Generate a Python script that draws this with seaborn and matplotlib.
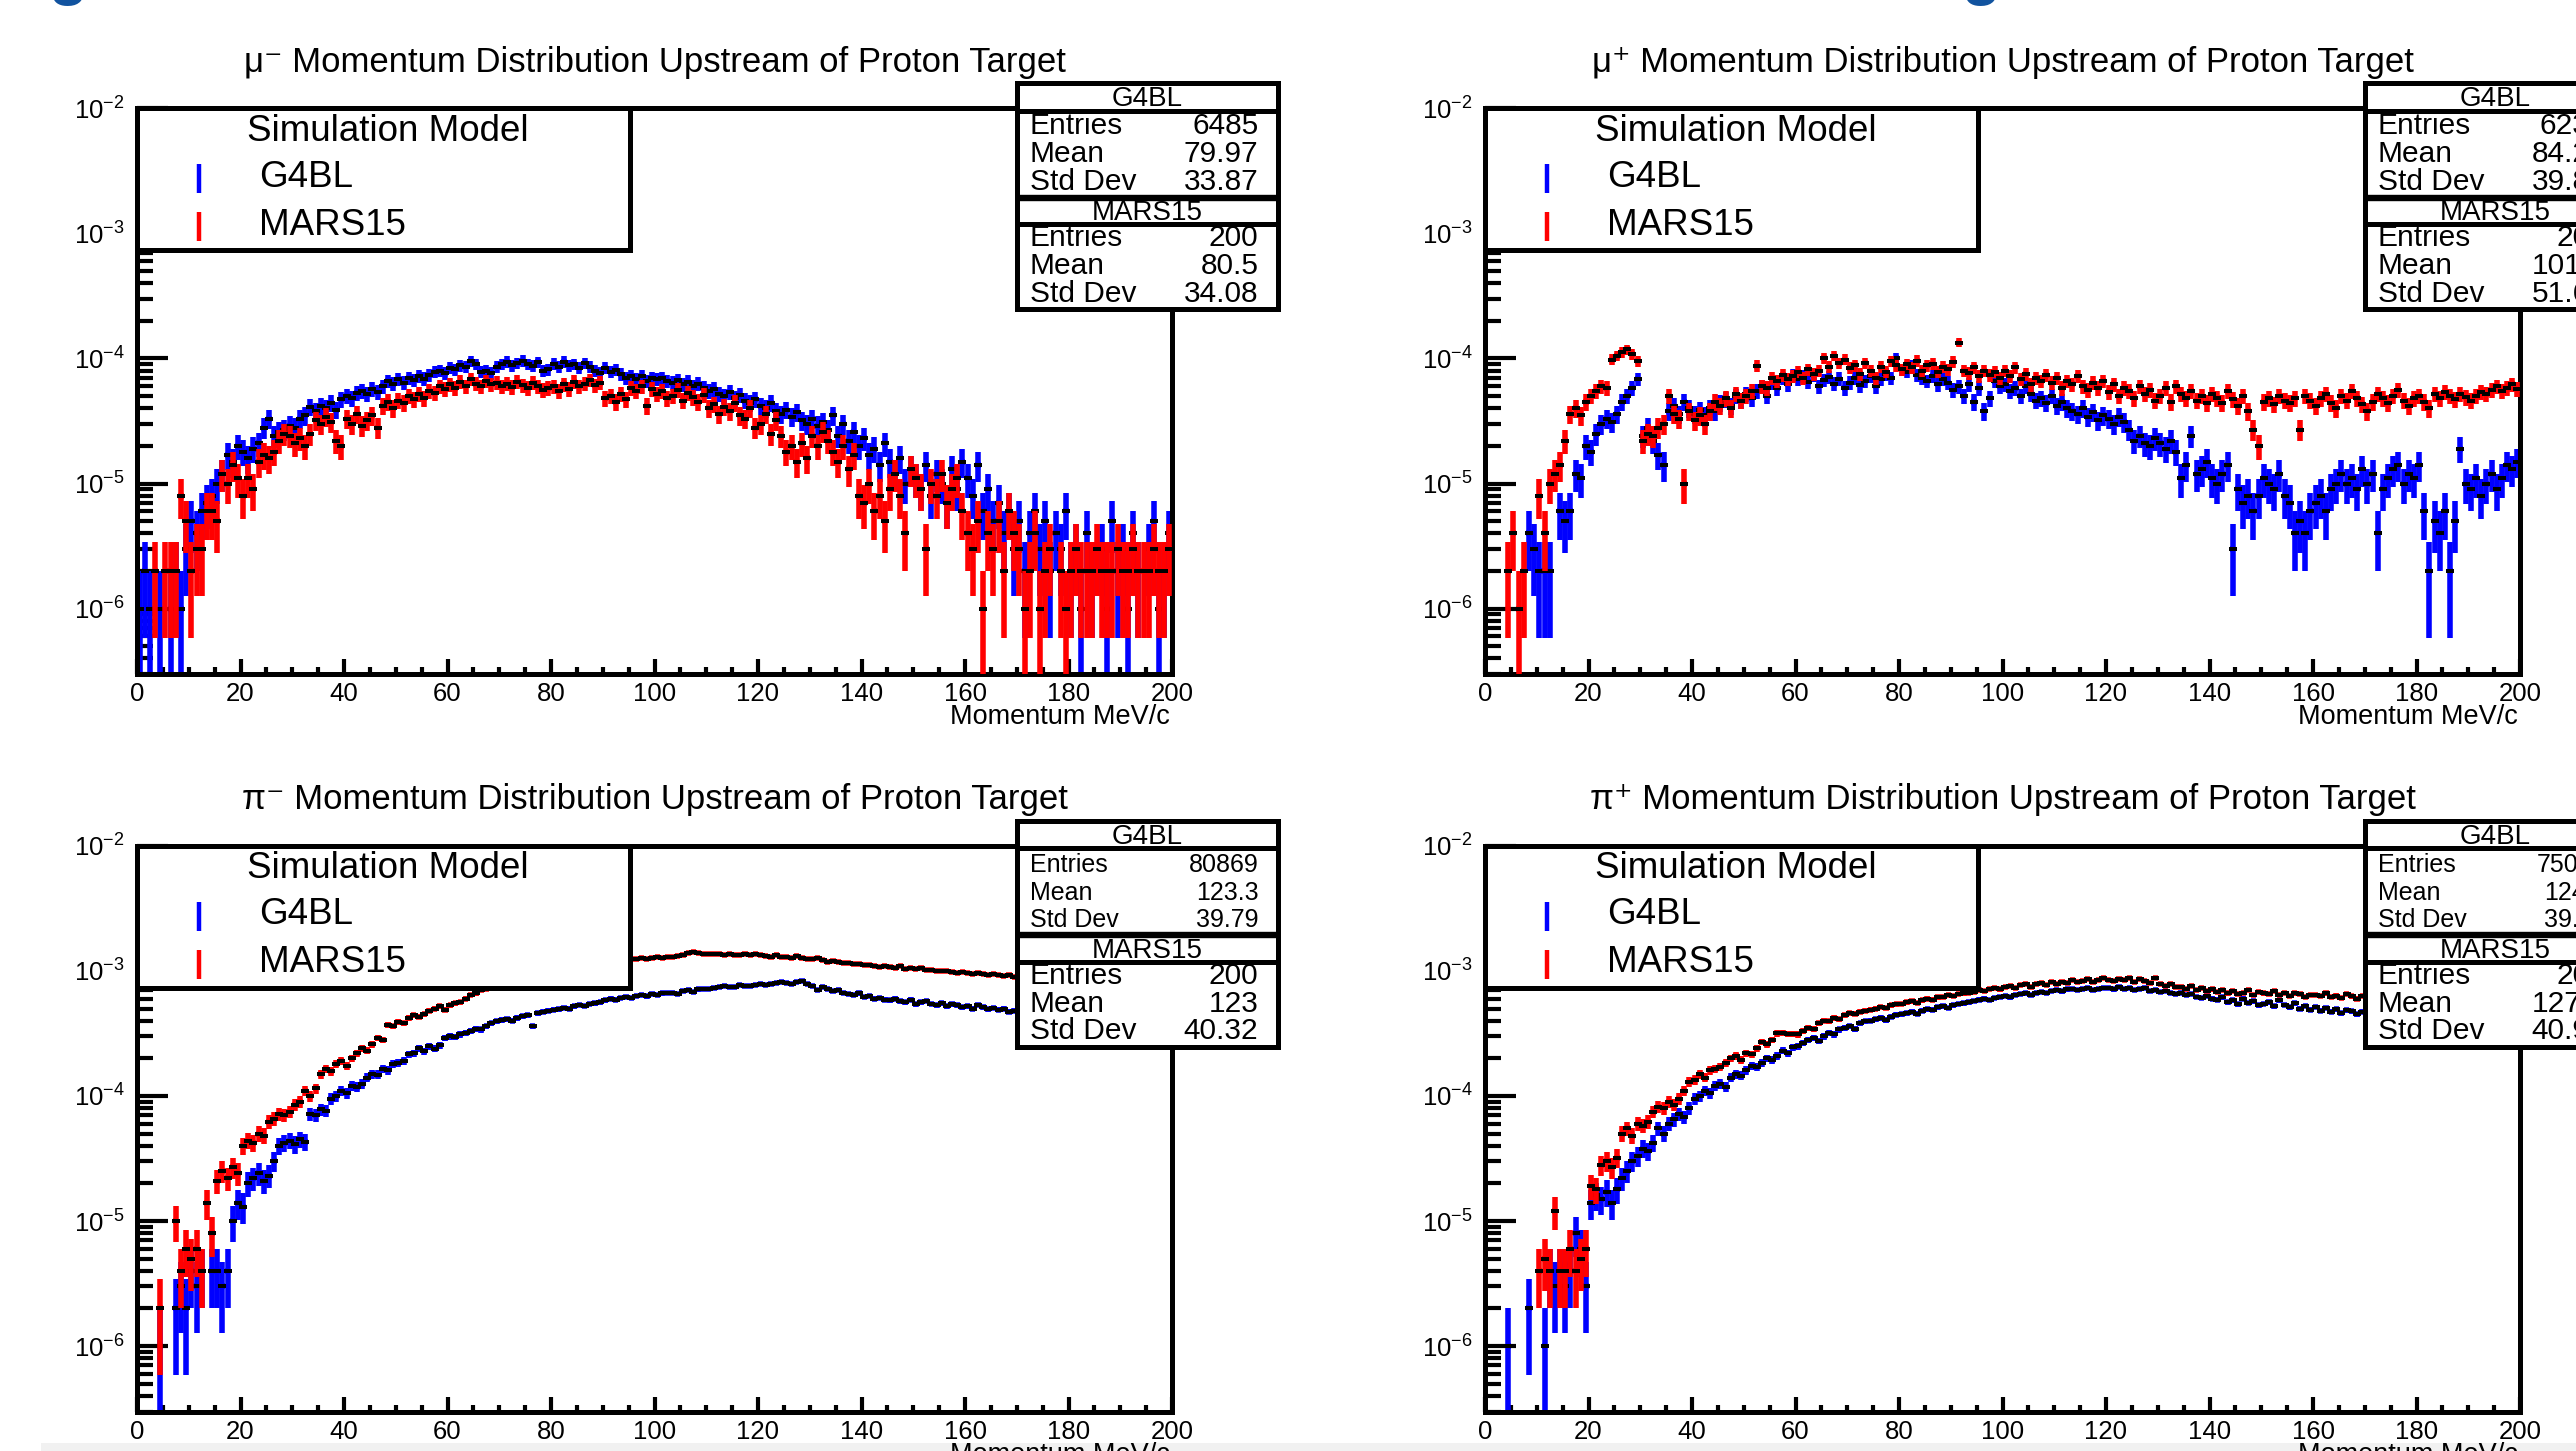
import numpy as np
import pandas as pd
import matplotlib
matplotlib.use("Agg")
import matplotlib.pyplot as plt
import seaborn as sns
from matplotlib.lines import Line2D
from matplotlib.patches import Rectangle
from matplotlib.ticker import FixedLocator, FuncFormatter, NullFormatter

# ---------------------------------------------------------------- data
BIN_EDGES = np.arange(0, 201, 1)      # momentum bins [MeV/c]
ENTRY_WEIGHT = 1e-6                   # weight of one histogram entry
X_TICKS = [0, 20, 40, 60, 80, 100, 120, 140, 160, 180, 200]
Y_DECADES = [-6, -5, -4, -3, -2]
STAT_LABELS = ["Entries", "Mean", "Std Dev"]
MODELS = ["G4BL", "MARS15"]
LEGEND_TITLE = "Simulation Model"
X_LABEL = "Momentum MeV/c"

TITLES = [
    "\u03bc\u207b Momentum Distribution Upstream of Proton Target",
    "\u03bc\u207a Momentum Distribution Upstream of Proton Target",
    "\u03c0\u207b Momentum Distribution Upstream of Proton Target",
    "\u03c0\u207a Momentum Distribution Upstream of Proton Target",
]

# bin contents in units of ENTRY_WEIGHT, bins 0..199 MeV/c
MU_MINUS_G4BL = [
    1, 2, 1, 0, 1, 0, 1, 2, 1, 3,
    5, 4, 6, 7, 8, 10, 12, 17, 15, 20,
    18, 16, 19, 21, 28, 33, 24, 26, 27, 29,
    28, 33, 35, 41, 38, 42, 40, 44, 39, 47,
    50, 48, 53, 55, 52, 57, 54, 60, 66, 63,
    68, 64, 70, 67, 72, 69, 74, 78, 80, 76,
    84, 82, 88, 86, 95, 90, 78, 80, 76, 86,
    90, 94, 88, 92, 96, 90, 87, 93, 80, 82,
    91, 86, 94, 88, 90, 84, 92, 86, 80, 76,
    84, 78, 81, 75, 70, 73, 68, 72, 66, 70,
    68, 70, 66, 64, 67, 62, 65, 60, 63, 58,
    55, 57, 52, 50, 54, 48, 51, 46, 44, 47,
    42, 40, 44, 38, 36, 39, 34, 37, 32, 30,
    33, 29, 31, 27, 35, 24, 30, 22, 26, 20,
    23, 17, 19, 14, 21, 15, 12, 16, 10, 13,
    11, 9, 14, 8, 12, 10, 7, 13, 9, 15,
    11, 8, 14, 6, 9, 5, 7, 4, 6, 3,
    5, 2, 4, 6, 3, 5, 2, 4, 3, 6,
    2, 3, 1, 4, 2, 0, 3, 1, 5, 2,
    3, 1, 4, 2, 0, 3, 5, 1, 2, 4,
]
MU_MINUS_MARS15 = [
    0, 0, 0, 2, 0, 2, 2, 2, 8, 5,
    2, 3, 3, 6, 6, 5, 12, 10, 14, 11,
    8, 11, 9, 15, 17, 16, 18, 22, 25, 24,
    21, 23, 20, 25, 32, 30, 34, 31, 22, 20,
    33, 30, 36, 29, 32, 35, 28, 42, 45, 40,
    46, 44, 50, 47, 52, 48, 55, 53, 60, 57,
    62, 58, 65, 60, 68, 63, 60, 66, 62, 64,
    60, 63, 59, 65, 61, 58, 64, 60, 56, 58,
    60, 55, 62, 57, 65, 60, 63, 67, 61, 64,
    48, 50, 45, 52, 47, 58, 55, 60, 42, 57,
    52, 55, 48, 50, 56, 46, 53, 49, 45, 51,
    40, 43, 36, 41, 38, 44, 35, 33, 40, 28,
    30, 36, 25, 32, 24, 18, 20, 15, 21, 16,
    24, 20, 26, 22, 18, 15, 20, 13, 17, 8,
    7, 10, 6, 8, 5, 9, 12, 8, 4, 13,
    11, 9, 3, 10, 8, 12, 7, 9, 11, 6,
    4, 3, 5, 1, 4, 3, 5, 2, 6, 4,
    3, 1, 2, 4, 1, 2, 3, 0, 2, 1,
    2, 3, 2, 2, 2, 3, 2, 2, 2, 3,
    2, 2, 3, 2, 2, 2, 3, 2, 2, 3,
]
MU_PLUS_G4BL = [
    0, 0, 0, 0, 0, 0, 0, 0, 4, 3,
    2, 2, 2, 0, 6, 5, 6, 12, 11, 20,
    18, 25, 30, 33, 31, 36, 45, 50, 58, 68,
    24, 28, 22, 17, 14, 38, 42, 36, 45, 40,
    36, 39, 35, 40, 38, 44, 47, 42, 50, 46,
    52, 48, 55, 60, 50, 64, 58, 70, 62, 74,
    68, 72, 65, 74, 60, 67, 71, 63, 69, 58,
    64, 70, 61, 66, 72, 60, 68, 75, 70, 100,
    82, 78, 88, 74, 70, 66, 72, 62, 68, 64,
    56, 60, 50, 62, 45, 58, 38, 48, 66, 60,
    62, 55, 58, 50, 60, 52, 46, 48, 44, 50,
    42, 45, 40, 38, 36, 40, 34, 37, 32, 35,
    33, 30, 34, 31, 27, 22, 24, 21, 20, 23,
    21, 19, 22, 18, 11, 14, 24, 12, 13, 15,
    11, 10, 12, 14, 3, 9, 7, 8, 6, 8,
    11, 10, 9, 12, 8, 7, 4, 5, 4, 6,
    7, 8, 6, 9, 10, 12, 10, 11, 9, 13,
    10, 12, 4, 9, 11, 13, 14, 10, 12, 11,
    14, 6, 2, 5, 4, 6, 2, 5, 19, 10,
    9, 11, 8, 10, 12, 9, 11, 14, 13, 15,
]
MU_PLUS_MARS15 = [
    0, 0, 0, 0, 2, 4, 1, 2, 0, 0,
    8, 4, 10, 12, 14, 22, 36, 40, 35, 45,
    50, 55, 60, 58, 98, 105, 112, 118, 108, 95,
    22, 25, 24, 28, 30, 50, 36, 33, 10, 38,
    32, 35, 30, 38, 45, 42, 48, 40, 52, 46,
    50, 55, 87, 60, 58, 70, 66, 74, 68, 72,
    78, 70, 82, 75, 80, 100, 86, 105, 92, 98,
    84, 88, 75, 92, 80, 70, 86, 78, 95, 88,
    82, 90, 85, 96, 80, 88, 91, 78, 86, 82,
    94, 134, 80, 76, 85, 72, 80, 74, 78, 70,
    80, 72, 85, 68, 75, 62, 70, 66, 74, 64,
    70, 58, 66, 62, 72, 60, 56, 64, 58, 66,
    54, 62, 50, 58, 55, 48, 60, 52, 56, 46,
    50, 58, 45, 60, 52, 48, 55, 46, 50, 44,
    52, 48, 44, 55, 47, 42, 50, 38, 27, 20,
    45, 48, 43, 50, 46, 44, 48, 27, 50, 46,
    42, 48, 52, 44, 40, 50, 46, 55, 48, 43,
    38, 45, 52, 48, 44, 50, 56, 46, 42, 48,
    50, 45, 40, 52, 48, 54, 50, 47, 52, 49,
    46, 50, 54, 52, 56, 60, 55, 58, 62, 57,
]
PI_MINUS_G4BL = [
    0, 0, 0, 0, 1, 0, 0, 2, 3, 2,
    4, 3, 4, 0, 4, 4, 3, 4, 10, 14,
    13, 20, 22, 24, 21, 23, 30, 40, 42, 44,
    41, 45, 43, 72, 70, 78, 76, 95, 100, 110,
    105, 120, 118, 125, 140, 150, 148, 165, 160, 180,
    185, 190, 215, 220, 240, 228, 250, 238, 255, 290,
    300, 295, 310, 320, 330, 345, 340, 360, 380, 395,
    405, 410, 400, 420, 435, 440, 360, 460, 470, 480,
    490, 495, 505, 500, 520, 535, 525, 545, 550, 560,
    580, 600, 590, 610, 620, 605, 630, 640, 625, 650,
    645, 660, 670, 665, 655, 690, 700, 680, 710, 720,
    715, 730, 740, 760, 745, 750, 770, 760, 755, 770,
    780, 775, 790, 805, 820, 800, 780, 810, 825, 790,
    760, 700, 740, 720, 690, 705, 670, 650, 640, 660,
    620, 630, 600, 610, 590, 580, 600, 570, 560, 590,
    540, 560, 575, 545, 530, 550, 520, 540, 530, 510,
    520, 500, 535, 510, 495, 505, 490, 500, 470, 480,
    470, 465, 480, 460, 455, 470, 450, 460, 445, 455,
    450, 440, 455, 430, 445, 435, 440, 425, 430, 420,
    430, 415, 425, 410, 420, 405, 415, 400, 410, 395,
]
PI_MINUS_MARS15 = [
    0, 0, 0, 0, 2, 0, 0, 10, 4, 6,
    5, 6, 4, 14, 8, 21, 25, 22, 27, 24,
    40, 44, 42, 50, 48, 62, 66, 72, 70, 75,
    85, 90, 110, 100, 115, 150, 165, 158, 180, 190,
    175, 200, 220, 240, 230, 260, 290, 280, 370, 360,
    390, 380, 420, 440, 430, 450, 480, 500, 520, 490,
    530, 550, 560, 600, 640, 660, 700, 720, 740, 760,
    790, 800, 830, 845, 860, 890, 905, 920, 960, 970,
    995, 1010, 1040, 1050, 1075, 1090, 1115, 1130, 1160, 1170,
    1180, 1205, 1210, 1235, 1220, 1250, 1245, 1260, 1240, 1270,
    1280, 1265, 1300, 1290, 1320, 1350, 1390, 1410, 1380, 1370,
    1360, 1375, 1355, 1350, 1365, 1340, 1345, 1360, 1335, 1370,
    1345, 1320, 1290, 1330, 1280, 1300, 1270, 1310, 1260, 1250,
    1240, 1260, 1220, 1180, 1200, 1170, 1150, 1160, 1130, 1140,
    1110, 1120, 1100, 1080, 1095, 1070, 1060, 1085, 1040, 1050,
    1030, 1045, 1010, 1020, 1000, 990, 1005, 980, 970, 985,
    960, 950, 965, 940, 930, 945, 920, 910, 925, 900,
    905, 890, 880, 895, 870, 885, 860, 875, 850, 865,
    855, 840, 860, 845, 830, 850, 835, 825, 840, 820,
    830, 815, 825, 810, 820, 800, 815, 805, 795, 810,
]
PI_PLUS_G4BL = [
    0, 0, 0, 0, 1, 0, 0, 0, 2, 0,
    0, 1, 4, 3, 4, 3, 4, 8, 6, 3,
    14, 16, 15, 17, 14, 18, 22, 25, 30, 33,
    38, 36, 42, 55, 50, 60, 65, 72, 68, 80,
    95, 100, 110, 105, 120, 125, 118, 140, 150, 145,
    160, 175, 170, 185, 200, 195, 210, 230, 220, 245,
    250, 265, 280, 290, 275, 300, 320, 310, 340, 350,
    360, 345, 380, 395, 400, 410, 420, 405, 430, 445,
    450, 460, 470, 455, 480, 495, 490, 510, 520, 505,
    530, 545, 550, 560, 575, 590, 600, 585, 610, 620,
    630, 615, 640, 650, 660, 645, 670, 680, 665, 690,
    700, 685, 710, 720, 700, 715, 730, 705, 720, 735,
    725, 710, 740, 720, 735, 700, 715, 730, 690, 705,
    680, 695, 670, 650, 665, 640, 655, 620, 610, 630,
    600, 590, 615, 560, 580, 540, 600, 555, 570, 530,
    545, 560, 520, 580, 535, 510, 550, 500, 525, 490,
    515, 480, 505, 470, 495, 460, 485, 475, 450, 470,
    480, 465, 470, 455, 475, 460, 468, 450, 462, 455,
    470, 460, 455, 465, 450, 460, 445, 458, 440, 452,
    445, 455, 440, 450, 435, 448, 442, 430, 445, 438,
]
PI_PLUS_MARS15 = [
    0, 0, 0, 0, 0, 0, 0, 0, 0, 0,
    4, 5, 4, 12, 4, 4, 6, 4, 5, 6,
    19, 18, 28, 30, 27, 32, 50, 55, 48, 60,
    58, 62, 75, 82, 80, 90, 85, 95, 110, 130,
    135, 150, 140, 160, 165, 170, 185, 200, 210, 195,
    220, 215, 240, 270, 260, 280, 316, 318, 312, 315,
    310, 330, 350, 345, 380, 400, 395, 420, 410, 440,
    460, 455, 470, 480, 490, 500, 515, 505, 530, 540,
    545, 560, 570, 555, 580, 600, 590, 615, 620, 640,
    630, 650, 660, 670, 680, 700, 690, 720, 735, 710,
    740, 760, 730, 770, 780, 750, 790, 800, 770, 810,
    790, 820, 800, 840, 810, 830, 860, 820, 845, 870,
    850, 830, 860, 840, 880, 820, 855, 835, 800, 870,
    790, 760, 780, 740, 750, 720, 760, 700, 730, 690,
    710, 680, 700, 660, 690, 650, 670, 700, 640, 680,
    660, 650, 690, 640, 670, 630, 660, 650, 620, 645,
    640, 630, 660, 620, 635, 610, 650, 625, 600, 630,
    620, 640, 610, 630, 605, 625, 600, 615, 590, 610,
    605, 590, 615, 585, 600, 595, 580, 605, 590, 585,
    600, 580, 595, 575, 590, 570, 585, 580, 565, 590,
]

STATS_MU_MINUS_G4BL = ["6485", "79.97", "33.87"]
STATS_MU_MINUS_MARS15 = ["200", "80.5", "34.08"]
STATS_MU_PLUS_G4BL = ["6231", "84.25", "39.84"]
STATS_MU_PLUS_MARS15 = ["200", "101.3", "51.62"]
STATS_PI_MINUS_G4BL = ["80869", "123.3", "39.79"]
STATS_PI_MINUS_MARS15 = ["200", "123", "40.32"]
STATS_PI_PLUS_G4BL = ["75032", "124.1", "39.55"]
STATS_PI_PLUS_MARS15 = ["200", "127.2", "40.93"]

PANELS = [
    dict(title=TITLES[0], g4=MU_MINUS_G4BL, mars=MU_MINUS_MARS15,
         s_g4=STATS_MU_MINUS_G4BL, s_mars=STATS_MU_MINUS_MARS15, g4size=21.5),
    dict(title=TITLES[1], g4=MU_PLUS_G4BL, mars=MU_PLUS_MARS15,
         s_g4=STATS_MU_PLUS_G4BL, s_mars=STATS_MU_PLUS_MARS15, g4size=21.5),
    dict(title=TITLES[2], g4=PI_MINUS_G4BL, mars=PI_MINUS_MARS15,
         s_g4=STATS_PI_MINUS_G4BL, s_mars=STATS_PI_MINUS_MARS15, g4size=18),
    dict(title=TITLES[3], g4=PI_PLUS_G4BL, mars=PI_PLUS_MARS15,
         s_g4=STATS_PI_PLUS_G4BL, s_mars=STATS_PI_PLUS_MARS15, g4size=18),
]

# ---------------------------------------------------------------- style
sns.set_theme(style="ticks")
plt.rcParams.update({
    "font.family": ["Liberation Sans", "DejaVu Sans"],
    "mathtext.fontset": "custom",
    "mathtext.rm": "Liberation Sans",
    "mathtext.it": "Liberation Sans:italic",
    "mathtext.bf": "Liberation Sans:bold",
    "mathtext.sf": "Liberation Sans",
    "text.color": "black",
    "axes.edgecolor": "black",
    "axes.labelcolor": "black",
    "xtick.color": "black",
    "ytick.color": "black",
    "axes.facecolor": "white",
    "figure.facecolor": "white",
})

BLUE = "#0000ff"
RED = "#ff0000"
W, H = 2576, 1451
fig = plt.figure(figsize=(W / 100, H / 100), dpi=100)

AX_X0, AX_X1, AX_TOP, AX_BOT = 137.0, 1172.0, 108.3, 674.0
DX, DY = 1348.0, 737.5
RECT_MARKER = [(-1, -0.5), (1, -0.5), (1, 0.5), (-1, 0.5)]
TITLE_SIZE = 25
LEGEND_SIZE = 26.5
STAT_SIZE = 21.5
HEADER_SIZE = 20
TICK_SIZE = 18.5
XLABEL_SIZE = 19.5
BAR_LW = 4.0


def fxy(x, y):
    return x / W, 1 - y / H


def fig_rect(x0, y0, x1, y1, lw=3.6, z=5, fc="white", ec="black"):
    r = Rectangle(fxy(x0, y1), (x1 - x0) / W, (y1 - y0) / H,
                  transform=fig.transFigure, facecolor=fc, edgecolor=ec,
                  linewidth=lw, zorder=z)
    fig.add_artist(r)


def fig_hline(x0, x1, y, lw=3.6, z=6):
    fig.add_artist(Line2D([x0 / W, x1 / W], [1 - y / H, 1 - y / H],
                          transform=fig.transFigure, color="black", lw=lw,
                          zorder=z, solid_capstyle="butt"))


def fig_text(x, y, s, **kw):
    kw.setdefault("zorder", 7)
    kw.setdefault("va", "baseline")
    fig.text(x / W, 1 - y / H, s, **kw)


def draw_hist(ax, counts, color, z):
    counts = np.asarray(counts, dtype=float)
    lo_edge, hi_edge = BIN_EDGES[:-1], BIN_EDGES[1:]
    centers = 0.5 * (lo_edge + hi_edge)
    m = counts > 0
    n = counts[m]
    val = n * ENTRY_WEIGHT
    err = np.sqrt(n) * ENTRY_WEIGHT
    lo = np.where(val - err > 0, val - err, 1e-9)
    ax.vlines(centers[m], lo, val + err, colors=color, linewidth=BAR_LW,
              zorder=z)
    ax.hlines(val, lo_edge[m], hi_edge[m], colors=color, linewidth=BAR_LW,
              zorder=z)
    df = pd.DataFrame({"momentum": centers[m], "value": val})
    sns.scatterplot(data=df, x="momentum", y="value", marker=RECT_MARKER,
                    s=40, color="black", linewidth=0, legend=False, ax=ax,
                    zorder=z + 0.5)


for i, p in enumerate(PANELS):
    ox = DX * (i % 2)
    oy = DY * (i // 2)
    l, b = fxy(AX_X0 + ox, AX_BOT + oy)
    ax = fig.add_axes([l, b, (AX_X1 - AX_X0) / W, (AX_BOT - AX_TOP) / H])
    ax.set_facecolor("white")
    ax.set_yscale("log")
    draw_hist(ax, p["g4"], BLUE, 2)
    draw_hist(ax, p["mars"], RED, 4)
    ax.set_xlim(BIN_EDGES[0], BIN_EDGES[-1])
    ax.set_ylim(3e-7, 1e-2)
    ax.set_xlabel("")
    ax.set_ylabel("")

    ax.xaxis.set_major_locator(FixedLocator(X_TICKS))
    ax.xaxis.set_minor_locator(FixedLocator([v for v in range(0, 201, 5) if v % 20]))
    ax.xaxis.set_major_formatter(FuncFormatter(lambda v, _: f"{int(round(v))}"))
    ax.yaxis.set_major_locator(FixedLocator([10.0 ** k for k in Y_DECADES]))
    ax.yaxis.set_minor_locator(FixedLocator(
        [m * 10.0 ** k for k in range(-7, -2) for m in range(2, 10)]))
    ax.yaxis.set_major_formatter(FuncFormatter(
        lambda v, _: r"$\mathdefault{10^{%d}}$" % int(round(np.log10(v)))))
    ax.yaxis.set_minor_formatter(NullFormatter())
    ax.tick_params(axis="x", which="major", direction="in", length=10.8,
                   width=3, pad=6, labelsize=TICK_SIZE, top=False, bottom=True)
    ax.tick_params(axis="x", which="minor", direction="in", length=5.4,
                   width=3, top=False, bottom=True)
    ax.tick_params(axis="y", which="major", direction="in", length=22,
                   width=3, pad=9, labelsize=TICK_SIZE, right=False, left=True)
    ax.tick_params(axis="y", which="minor", direction="in", length=11.5,
                   width=3, right=False, left=True)
    for sp in ax.spines.values():
        sp.set_visible(True)
        sp.set_linewidth(3.6)
        sp.set_color("black")

    # title and axis label
    fig_text((AX_X0 + AX_X1) / 2 + ox, 72 + oy, p["title"], ha="center",
             fontsize=TITLE_SIZE)
    fig_text(AX_X1 - 2 + ox, 724 + oy, X_LABEL, ha="right",
             fontsize=XLABEL_SIZE)

    # legend box
    fig_rect(AX_X0 + ox, AX_TOP + oy, 630 + ox, 250 + oy)
    fig_text(387.6 + ox, 140.6 + oy, LEGEND_TITLE, ha="center",
             fontsize=LEGEND_SIZE)
    for name, color, yb, l0, l1 in [(MODELS[0], BLUE, 187, 164, 193),
                                    (MODELS[1], RED, 235, 212, 241)]:
        fig.add_artist(Line2D([(199 + ox) / W] * 2,
                              [1 - (l0 + oy) / H, 1 - (l1 + oy) / H],
                              transform=fig.transFigure, color=color, lw=3.2,
                              zorder=7, solid_capstyle="butt"))
        fig_text(259.5 + ox, yb + oy, name, ha="left", fontsize=LEGEND_SIZE)

    # statistics boxes
    SX0, SX1 = 1016.7 + ox, 1277.7 + ox
    fig_rect(SX0, 83.3 + oy, SX1, 309.3 + oy)
    fig_hline(SX0, SX1, 110.7 + oy)
    fig_hline(SX0, SX1, 197.7 + oy, lw=4.6)
    fig_hline(SX0, SX1, 224.3 + oy)
    fig_text((SX0 + SX1) / 2, 106.5 + oy, MODELS[0], ha="center",
             fontsize=HEADER_SIZE)
    fig_text((SX0 + SX1) / 2, 220.5 + oy, MODELS[1], ha="center",
             fontsize=HEADER_SIZE)
    for lab, val, yb in zip(STAT_LABELS, p["s_g4"], [134, 162.3, 190]):
        fig_text(1030 + ox, yb + oy, lab, ha="left", fontsize=p["g4size"])
        fig_text(1258.3 + ox, yb + oy, val, ha="right", fontsize=p["g4size"])
    for lab, val, yb in zip(STAT_LABELS, p["s_mars"], [246, 274, 301.7]):
        fig_text(1030 + ox, yb + oy, lab, ha="left", fontsize=STAT_SIZE)
        fig_text(1258.3 + ox, yb + oy, val, ha="right", fontsize=STAT_SIZE)

# slide remnants: heading descenders at the top edge, footer band at bottom
fig_text(48, -6.5, "g", ha="left", fontsize=46, fontweight="bold",
         color="#11539f")
fig_text(1961, -6.5, "g", ha="left", fontsize=46, fontweight="bold",
         color="#11539f")
fig_rect(41, 1443, 2600, 1460, lw=0, z=-1, fc="#f1f1f1", ec="none")

fig.savefig("out.png", dpi=100, facecolor="white")
